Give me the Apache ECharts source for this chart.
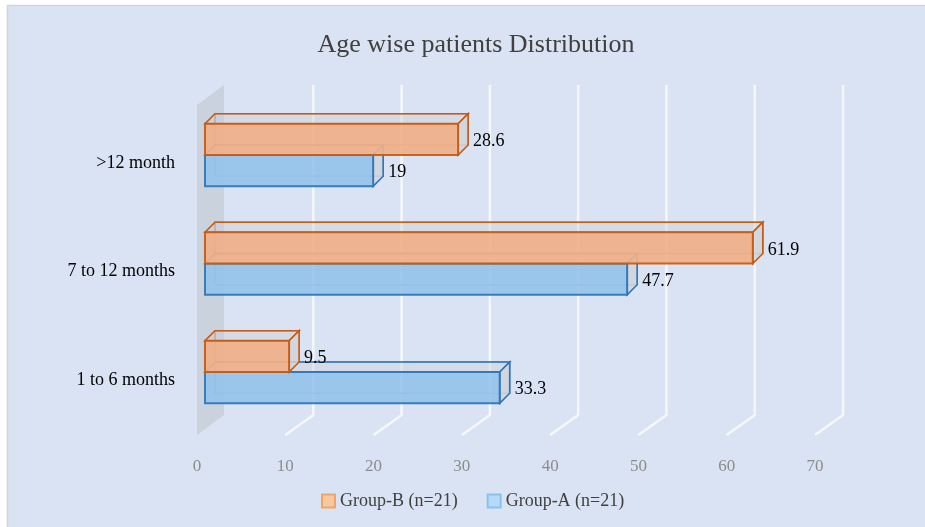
<!DOCTYPE html>
<html>
<head>
<meta charset="utf-8">
<script src="https://cdn.jsdelivr.net/npm/echarts@6/dist/echarts.min.js"></script>
<style>
  html, body { margin: 0; padding: 0; background: #fff; }
  #chart { width: 925px; height: 527px; }
</style>
</head>
<body>
<div id="chart"></div>
<script>
// data, bottom category first
const categories = ['1 to 6 months', '7 to 12 months', '>12 month'];
const groupB = [9.5, 61.9, 28.6];
const groupA = [33.3, 47.7, 19];
const xTicks = [0, 10, 20, 30, 40, 50, 60, 70];
const seriesNames = ['Group-B (n=21)', 'Group-A (n=21)'];

const FONT = '"Liberation Serif", "Times New Roman", serif';
const DX = 10, DY = -10;   // depth of the 3d boxes

const chart = echarts.init(document.getElementById('chart'));

// draws one 3d box bar
function boxRenderer(pos, fill, stroke) {
    return function (params, api) {
        const v = api.value(0);
        const i = api.value(1);
        const end = api.coord([v, i]);
        const x0 = api.coord([0, i])[0];
        const x1 = end[0];
        const h = api.size([0, 1])[1] * 0.288;
        const top = pos === 'upper' ? end[1] - 8 - h : end[1] - 8;
        const w = x1 - x0;
        return {
            type: 'group',
            children: [
                {
                    type: 'rect',
                    shape: { x: x0 + DX, y: top + DY, width: w, height: h },
                    style: { fill: 'none', stroke: stroke, lineWidth: 1.6, opacity: 0.6 }
                },
                {
                    type: 'polygon',
                    shape: { points: [[x0, top], [x1, top], [x1 + DX, top + DY], [x0 + DX, top + DY]] },
                    style: { fill: 'rgba(205,208,215,0.45)', stroke: stroke, lineWidth: 1.6 }
                },
                {
                    type: 'polygon',
                    shape: { points: [[x1, top], [x1 + DX, top + DY], [x1 + DX, top + h + DY], [x1, top + h]] },
                    style: { fill: 'rgba(208,211,218,0.85)', stroke: stroke, lineWidth: 1.6 }
                },
                {
                    type: 'rect',
                    shape: { x: x0, y: top, width: w, height: h },
                    style: { fill: fill, stroke: stroke, lineWidth: 2, opacity: 0.92 }
                },
                {
                    type: 'text',
                    style: {
                        x: x1 + DX + 5, y: top + h / 2 + 2,
                        text: String(v),
                        fill: '#000', font: '18px ' + FONT,
                        verticalAlign: 'middle'
                    }
                }
            ]
        };
    };
}

chart.setOption({
    backgroundColor: '#fff',
    animation: false,
    graphic: [{
        type: 'rect', z: -10,
        shape: { x: 7.5, y: 5.5, width: 930, height: 530 },
        style: { fill: '#dae3f3', stroke: '#d4d4d4', lineWidth: 1.5 }
    }],
    title: {
        text: 'Age wise patients Distribution',
        left: 471, top: 27, textAlign: 'center',
        textStyle: { fontFamily: FONT, fontSize: 26, fontWeight: 'normal', color: '#404040' }
    },
    legend: {
        data: seriesNames,
        left: 316, top: 487,
        itemWidth: 13, itemHeight: 13, itemGap: 29,
        icon: 'rect',
        textStyle: { fontFamily: FONT, fontSize: 18, color: '#404040' }
    },
    grid: [
        { left: 205, right: 100.5, top: 108.75, bottom: 92.75 },
        { left: 197, right: 110, top: 85, bottom: 92 }
    ],
    xAxis: [
        { gridIndex: 0, type: 'value', min: 0, max: 70, show: false },
        {
            gridIndex: 1, type: 'value', min: 0, max: 70, interval: 10,
            axisLine: { show: false }, axisTick: { show: false }, splitLine: { show: false },
            axisLabel: { margin: 23, color: '#8c8c8c', fontFamily: FONT, fontSize: 17 }
        }
    ],
    yAxis: [
        {
            gridIndex: 0, type: 'category', data: categories,
            axisLine: { show: false }, axisTick: { show: false },
            axisLabel: { margin: 30, color: '#000', fontFamily: FONT, fontSize: 18 }
        },
        { gridIndex: 1, type: 'value', min: 0, max: 1, show: false }
    ],
    series: [
        {
            // back wall and floor gridlines
            type: 'custom', name: 'walls', silent: true, z: 1,
            xAxisIndex: 1, yAxisIndex: 1,
            data: xTicks.map(v => [v]),
            renderItem: function (params, api) {
                const v = api.value(0);
                const f = api.coord([v, 0]);
                const t = api.coord([v, 1]);
                if (v === 0) {
                    return {
                        type: 'polygon',
                        shape: { points: [[f[0], f[1]], [f[0] + 27, f[1] - 20], [f[0] + 27, t[1]], [f[0], t[1] + 20]] },
                        style: { fill: 'rgba(192,198,208,0.6)' }
                    };
                }
                return {
                    type: 'polyline',
                    shape: { points: [[f[0], f[1]], [f[0] + 28, f[1] - 20], [f[0] + 28, t[1]]] },
                    style: { stroke: 'rgba(250,250,250,0.85)', lineWidth: 2.5, fill: 'none' }
                };
            }
        },
        {
            type: 'custom', name: seriesNames[1], z: 2,
            xAxisIndex: 0, yAxisIndex: 0,
            itemStyle: { color: '#b4dcf8', borderColor: '#88c2ee', borderWidth: 1.5 },
            encode: { x: 0, y: 1 },
            data: groupA.map((v, i) => [v, i]),
            renderItem: boxRenderer('lower', '#96c3eb', '#2e75b6')
        },
        {
            type: 'custom', name: seriesNames[0], z: 3,
            xAxisIndex: 0, yAxisIndex: 0,
            itemStyle: { color: '#f6c9a0', borderColor: '#f0a566', borderWidth: 1.5 },
            encode: { x: 0, y: 1 },
            data: groupB.map((v, i) => [v, i]),
            renderItem: boxRenderer('upper', '#f0b089', '#c55a11')
        }
    ]
});
</script>
</body>
</html>
